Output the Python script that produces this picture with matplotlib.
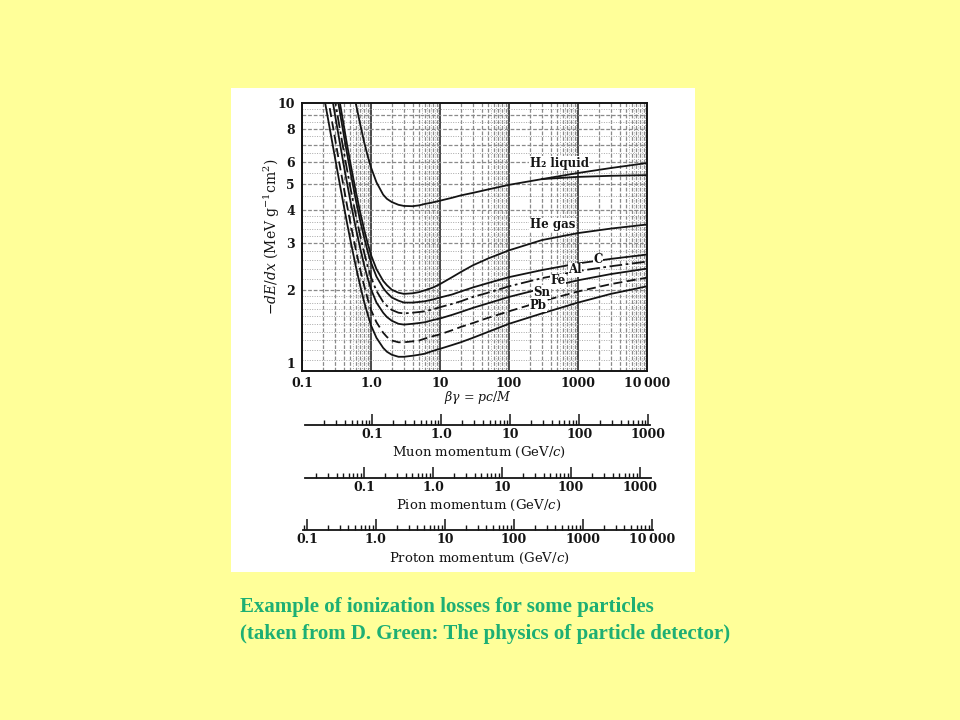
import matplotlib
matplotlib.use("Agg")
import matplotlib.pyplot as plt
from matplotlib.patches import Rectangle
from matplotlib.ticker import FixedLocator, FixedFormatter, NullLocator, NullFormatter, LogLocator
import numpy as np

plt.rcParams['mathtext.fontset'] = 'dejavuserif'

# ---------------- data ----------------
BG = [0.2, 0.25, 0.3, 0.35, 0.4, 0.45, 0.5, 0.6, 0.7, 0.8, 0.9, 1.0, 1.2, 1.5, 1.7,
      2, 2.5, 3, 4, 5, 6, 8, 10, 15, 20, 30, 50, 100, 300, 1000, 3000, 10000]
H2_LIQ = [55, 38, 28.5, 22, 18.1, 15.1, 13.0, 10.0, 8.3, 7.1, 6.31, 5.75, 5.06, 4.55, 4.39,
          4.27, 4.17, 4.13, 4.12, 4.15, 4.2, 4.26, 4.32, 4.43, 4.52, 4.62, 4.76, 4.95,
          5.2, 5.48, 5.72, 5.97]
H2_BRANCH_BG = [300, 1000, 3000, 10000]
H2_BRANCH = [5.2, 5.3, 5.35, 5.38]
HE_GAS = [25.1, 17.5, 13.0, 10.2, 8.33, 6.99, 6.01, 4.70, 3.89, 3.35, 2.98, 2.71, 2.40, 2.17,
          2.09, 2.01, 1.96, 1.94, 1.95, 1.97, 2.0, 2.05, 2.11, 2.24, 2.34, 2.48, 2.63, 2.82,
          3.08, 3.27, 3.40, 3.52]
C_VAL = [22.8, 16.0, 11.95, 9.41, 7.69, 6.47, 5.58, 4.37, 3.62, 3.13, 2.78, 2.54, 2.25, 2.04,
         1.96, 1.88, 1.83, 1.80, 1.80, 1.81, 1.82, 1.85, 1.88, 1.93, 1.98, 2.05, 2.13, 2.24,
         2.38, 2.52, 2.62, 2.72]
AL_VAL = [19.3, 13.6, 10.3, 8.13, 6.67, 5.63, 4.86, 3.83, 3.18, 2.75, 2.45, 2.24, 1.99, 1.81,
          1.75, 1.69, 1.65, 1.64, 1.65, 1.66, 1.67, 1.70, 1.73, 1.78, 1.82, 1.89, 1.96, 2.07,
          2.22, 2.36, 2.46, 2.56]
FE_VAL = [16.8, 12.0, 9.07, 7.21, 5.92, 5.02, 4.34, 3.43, 2.86, 2.47, 2.21, 2.02, 1.80, 1.65,
          1.59, 1.54, 1.50, 1.49, 1.50, 1.51, 1.52, 1.55, 1.57, 1.62, 1.66, 1.72, 1.79, 1.89,
          2.03, 2.18, 2.30, 2.41]
SN_VAL = [13.5, 9.7, 7.4, 5.91, 4.89, 4.14, 3.60, 2.85, 2.38, 2.07, 1.85, 1.69, 1.52, 1.39,
          1.34, 1.30, 1.28, 1.28, 1.29, 1.30, 1.32, 1.35, 1.37, 1.42, 1.46, 1.51, 1.58, 1.67,
          1.82, 1.98, 2.11, 2.23]
PB_VAL = [11.2, 8.15, 6.27, 5.04, 4.18, 3.56, 3.10, 2.47, 2.07, 1.80, 1.62, 1.48, 1.33, 1.22,
          1.18, 1.15, 1.13, 1.13, 1.14, 1.15, 1.16, 1.19, 1.21, 1.25, 1.28, 1.33, 1.40, 1.50,
          1.64, 1.80, 1.94, 2.07]

LABELS = ["H\u2082 liquid", "He gas", "C", "Al", "Fe", "Sn", "Pb"]
LABEL_X = [200, 200, 1950, 906, 513, 298, 201]
LABEL_Y = [5.97, 3.52, 2.60, 2.39, 2.17, 1.97, 1.76]

X_TICKS = [0.1, 1, 10, 100, 1000, 10000]
X_TICKLABELS = ["0.1", "1.0", "10", "100", "1000", "10\u2009000"]
Y_TICKS = [1, 2, 3, 4, 5, 6, 8, 10]
Y_TICKLABELS = ["1", "2", "3", "4", "5", "6", "8", "10"]

M_MU, M_PI, M_P = 0.1057, 0.1396, 0.938
MU_TICKS = [0.1, 1, 10, 100, 1000]
MU_LABELS = ["0.1", "1.0", "10", "100", "1000"]
PI_TICKS = [0.1, 1, 10, 100, 1000]
PI_LABELS = ["0.1", "1.0", "10", "100", "1000"]
P_TICKS = [0.1, 1, 10, 100, 1000, 10000]
P_LABELS = ["0.1", "1.0", "10", "100", "1000", "10\u2009000"]

CAPTION = ["Example of ionization losses for some particles",
           "(taken from D. Green: The physics of particle detector)"]

# ---------------- layout ----------------
W, H = 960, 720
fig = plt.figure(figsize=(9.6, 7.2), dpi=100, facecolor='#FFFF99')

def fx(px):
    return px / W

def fy(py):
    return 1 - py / H

fig.add_artist(Rectangle((fx(231), fy(572)), (695 - 231) / W, (572 - 88) / H,
                         transform=fig.transFigure, facecolor='white',
                         edgecolor='none', zorder=0))

SERIF = ['DejaVu Serif', 'DejaVu Sans']
INK = '#141414'

ax = fig.add_axes([fx(302), fy(371), 345 / W, 268 / H])
ax.set_facecolor('none')
ax.set_xscale('log')
ax.set_yscale('log')
ax.set_xlim(0.1, 1e4)
ax.set_ylim(1, 10)

# graph-paper grid
for d in [0.1, 1, 10, 100, 1000]:
    ax.axvline(d, color='#3a3a3a', lw=1.3, zorder=1)
    for k in range(2, 10):
        ax.axvline(d * k, color='#8a8a8a', lw=0.9, ls=(0, (3, 1.5)), zorder=1)
    for k in [5.5, 6.5, 7.5, 8.5, 9.5]:
        ax.axvline(d * k, color='#a8a8a8', lw=0.7, ls=(0, (1, 1.5)), zorder=1)
for v in range(2, 10):
    ax.axhline(v, color='#8a8a8a', lw=0.9, ls=(0, (3, 1.5)), zorder=1)
fine_y = list(np.arange(1.1, 2.0, 0.1)) + [2.2, 2.4, 2.6, 2.8, 3.2, 3.4, 3.6, 3.8,
                                          4.5, 5.5, 6.5, 7.5, 8.5, 9.5]
for v in fine_y:
    ax.axhline(v, color='#a8a8a8', lw=0.7, ls=(0, (1, 1.5)), zorder=1)

# curves
curves = [(H2_LIQ, '-'), (HE_GAS, '-'), (C_VAL, '-'), (AL_VAL, (0, (7, 2, 1.5, 2))),
          (FE_VAL, '-'), (SN_VAL, (0, (5, 2.5))), (PB_VAL, '-')]
for vals, ls in curves:
    ax.plot(BG, vals, color=INK, lw=1.3, ls=ls, zorder=3)
ax.plot(H2_BRANCH_BG, H2_BRANCH, color=INK, lw=1.3, zorder=3)

for lab, lx, ly in zip(LABELS, LABEL_X, LABEL_Y):
    ha = 'left' if lab in ("H\u2082 liquid", "He gas", "Pb") else 'center'
    ax.text(lx, ly, lab, ha=ha, va='center', fontsize=8.5, fontweight='bold',
            family=SERIF, color=INK, zorder=4,
            bbox=dict(facecolor='white', edgecolor='none', pad=0.3))

for s in ax.spines.values():
    s.set_color(INK)
    s.set_linewidth(1.4)
    s.set_zorder(5)

ax.xaxis.set_major_locator(FixedLocator(X_TICKS))
ax.xaxis.set_major_formatter(FixedFormatter(X_TICKLABELS))
ax.yaxis.set_major_locator(FixedLocator(Y_TICKS))
ax.yaxis.set_major_formatter(FixedFormatter(Y_TICKLABELS))
ax.xaxis.set_minor_locator(NullLocator())
ax.yaxis.set_minor_locator(NullLocator())
ax.tick_params(axis='x', length=0, labelsize=9, pad=4, labelcolor=INK)
ax.tick_params(axis='y', length=0, labelsize=9, pad=5, labelcolor=INK)
for t in ax.get_xticklabels() + ax.get_yticklabels():
    t.set_family(SERIF)
    t.set_fontweight('bold')
ax.get_yticklabels()[0].set_verticalalignment('bottom')

fig.text(fx(272), fy(237), r'$-dE/dx$ (MeV g$^{-1}$cm$^{2}$)', rotation=90,
         ha='center', va='center', fontsize=10, family=SERIF, color=INK)
fig.text(fx(478), fy(397), r'$\beta\gamma$ = $pc/M$', ha='center', va='center',
         fontsize=9, family=SERIF, color=INK)

# momentum scales
def momentum_axis(line_y, left_px, right_px, mass, ticks, labels, title, title_y):
    a = fig.add_axes([fx(left_px), fy(line_y), (right_px - left_px) / W, 14 / H])
    a.set_facecolor('none')
    bg_l = 10 ** (-1 + (left_px - 3 - 302) / 69)
    bg_r = 10 ** (-1 + (right_px - 3 - 302) / 69)
    a.set_xscale('log')
    a.set_xlim(mass * bg_l, mass * bg_r)
    for k in ('top', 'left', 'right'):
        a.spines[k].set_visible(False)
    a.spines['bottom'].set_linewidth(1.3)
    a.spines['bottom'].set_color(INK)
    a.set_yticks([])
    a.xaxis.set_major_locator(FixedLocator(ticks))
    a.xaxis.set_major_formatter(FixedFormatter(labels))
    a.xaxis.set_minor_locator(LogLocator(base=10, subs=np.arange(2, 10), numticks=30))
    a.xaxis.set_minor_formatter(NullFormatter())
    a.tick_params(which='major', direction='in', length=8, width=1.1, pad=2,
                  labelsize=9, color=INK, labelcolor=INK)
    a.tick_params(which='minor', direction='in', length=3.5, width=1.0, color=INK)
    for t in a.get_xticklabels():
        t.set_family(SERIF)
        t.set_fontweight('bold')
    fig.text(fx(479), fy(title_y), title, ha='center', va='center', fontsize=9.5,
             family=SERIF, color=INK)

momentum_axis(425, 305, 650, M_MU, MU_TICKS, MU_LABELS, r'Muon momentum (GeV/$c$)', 452)
momentum_axis(478, 305, 651, M_PI, PI_TICKS, PI_LABELS, r'Pion momentum (GeV/$c$)', 505)
momentum_axis(530, 303, 653, M_P, P_TICKS, P_LABELS, r'Proton momentum (GeV/$c$)', 558)

# caption
for line, ypx in zip(CAPTION, [607, 634]):
    fig.text(fx(240), fy(ypx), line, ha='left', va='center', fontsize=15,
             family='Liberation Serif', fontweight='bold', color='#1DAF74')

fig.savefig('out.png', dpi=100, facecolor=fig.get_facecolor())
